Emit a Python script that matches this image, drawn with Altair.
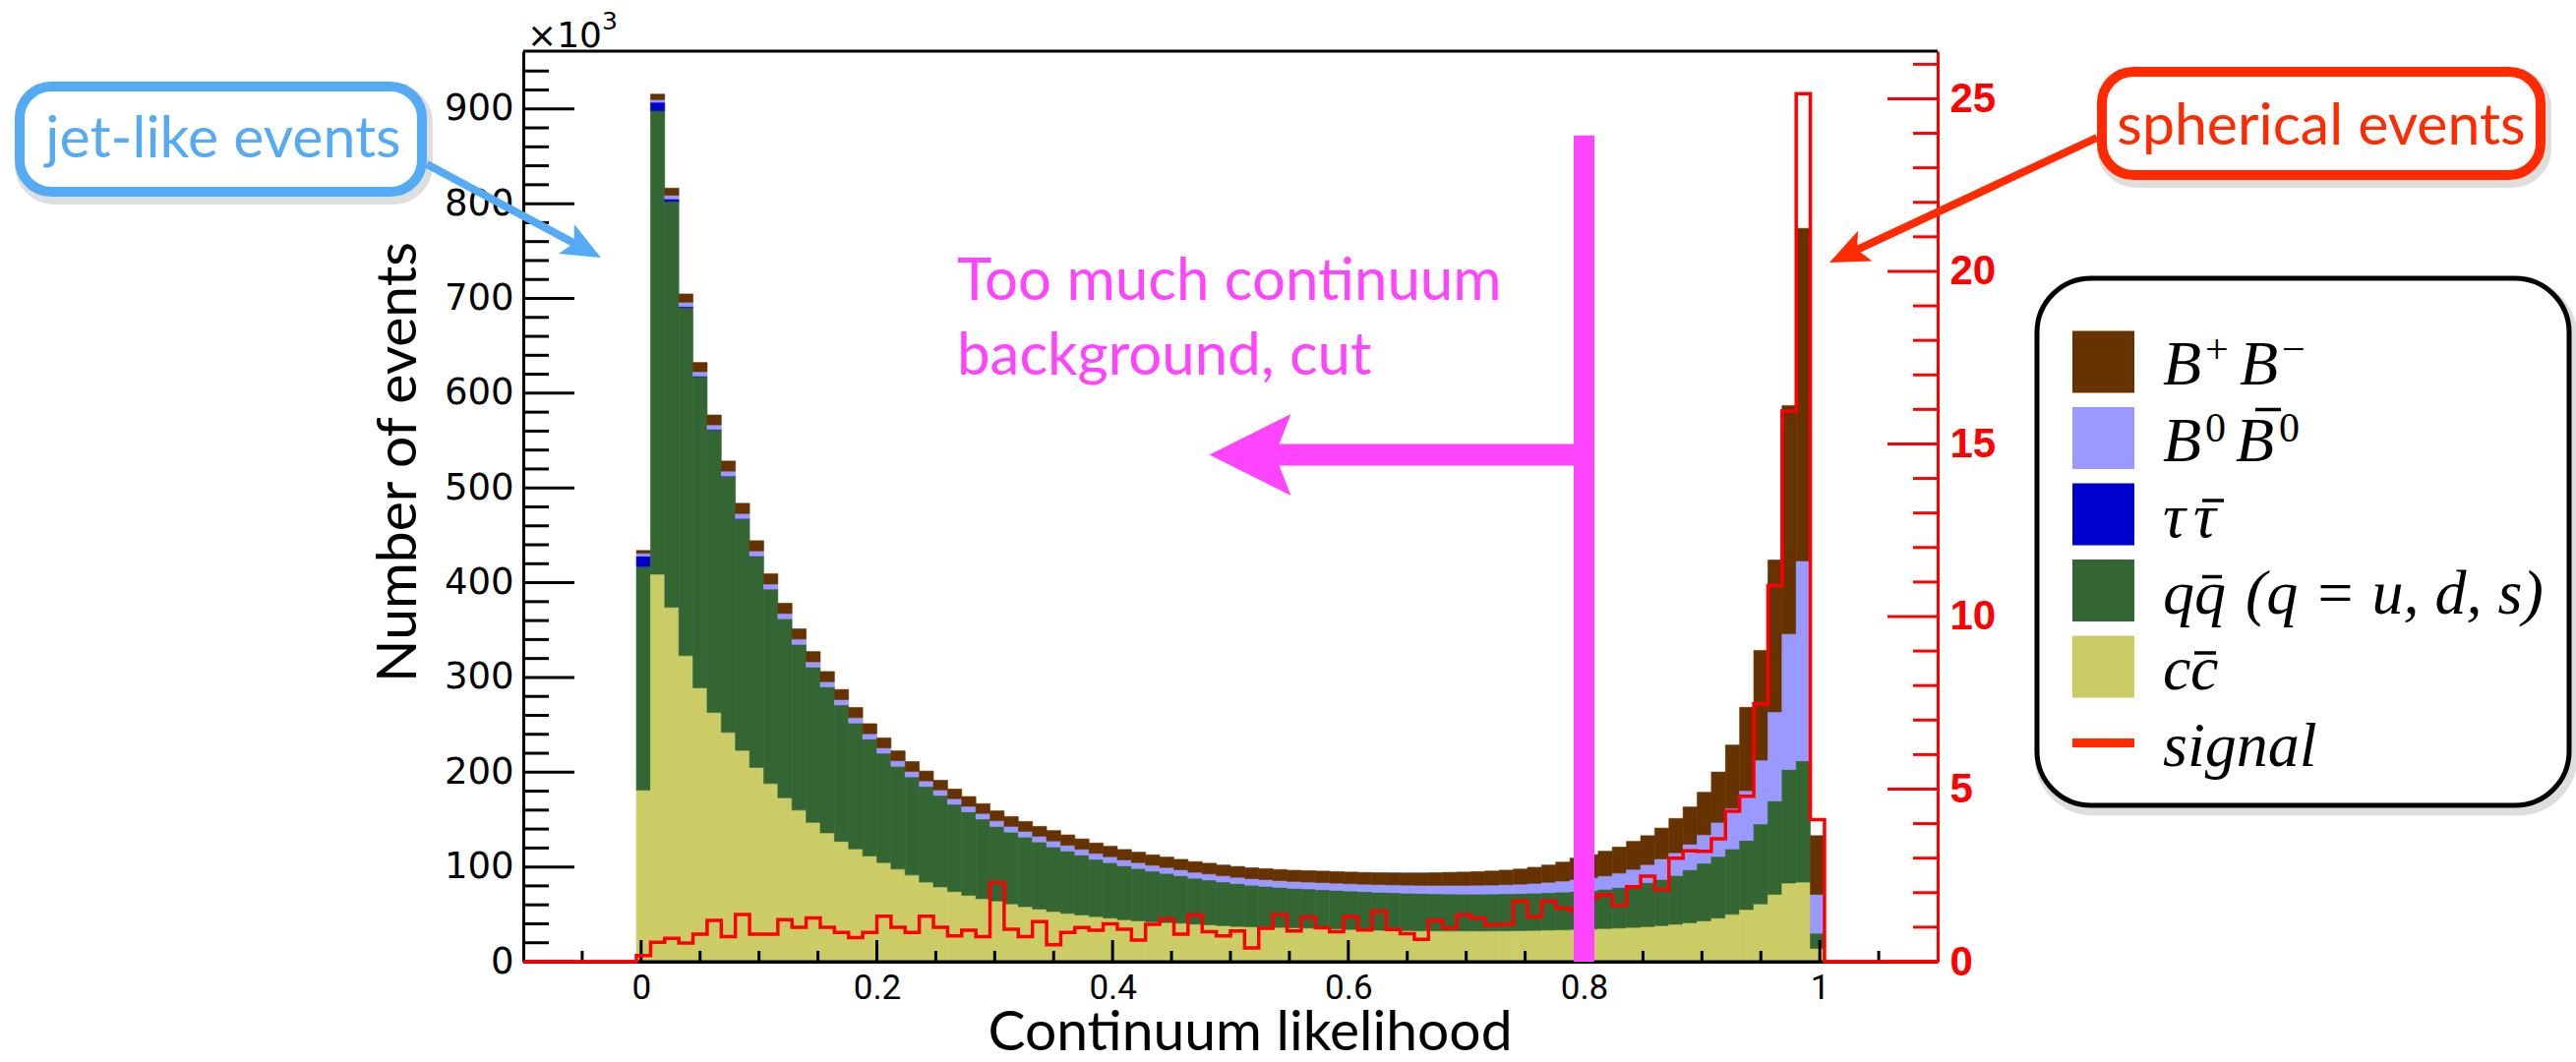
import math
import altair as alt
import pandas as pd

# ---------------- data ----------------
BIN_LO_FIRST = -0.004   # lower edge of the first filled bin
BIN_WIDTH = 0.012

# c c-bar (bottom of the stack), x10^3 events per bin
cc = [181, 409, 374, 323, 289, 263, 242, 223, 205, 188,
      173, 160, 147, 136, 127, 119, 111.5, 104.6, 97.7, 91.5,
      84, 79, 74, 70, 66.5, 64, 61, 58, 55.5, 53,
      51, 49.3, 47.6, 46, 44.3, 43.1, 42, 41.3, 40.6, 39.6,
      38.9, 38, 37.2, 36.8, 36.5, 36.2, 35.8, 35.5, 35, 34.5,
      34, 33.6, 33.2, 33, 32.8, 32.6, 32.5, 32.4, 32.4, 32.4,
      32.5, 32.6, 32.8, 33, 33.3, 33.6, 34, 34.5, 35, 35.5,
      36.2, 37, 38, 39.5, 41, 43, 46, 50, 55, 61,
      71, 83, 84, 14]
# q q-bar (q = u, d, s)
qq = [236, 489, 428.4, 367.5, 328.5, 298.4, 270.3, 244.5, 223, 205,
      189, 175, 164, 154, 144, 133, 123.5, 115.4, 108.6, 103.5,
      101, 96.5, 92.2, 88.2, 84.1, 78.7, 75.8, 73.6, 70.9, 68.2,
      65.8, 63.3, 60.5, 58.6, 56.9, 55.3, 53.6, 51.9, 50.2, 48.5,
      47.4, 46.2, 45.2, 44, 43.1, 42.3, 41.7, 41.3, 41, 40.8,
      40.6, 40.4, 40.2, 39.9, 39.6, 39.4, 39.2, 39.1, 39, 39,
      39, 39.1, 39.2, 39.4, 39.6, 39.9, 40.2, 40.5, 41.5, 42.8,
      44.3, 46.5, 48.8, 51.5, 56, 61, 65, 69, 73, 84.3,
      98.6, 120, 128, 16]
# tau tau-bar
tautau = [11, 9, 2.6, 1, 0.5, 0.3, 0.2, 0.2, 0.1, 0.1,
          0, 0, 0, 0, 0, 0, 0, 0, 0, 0,
          0, 0, 0, 0, 0, 0, 0, 0, 0, 0,
          0, 0, 0, 0, 0, 0, 0, 0, 0, 0,
          0, 0, 0, 0, 0, 0, 0, 0, 0, 0,
          0, 0, 0, 0, 0, 0, 0, 0, 0, 0,
          0, 0, 0, 0, 0, 0, 0, 0, 0, 0,
          0, 0, 0, 0, 0, 0, 0, 0, 0, 0,
          0, 0, 0, 0]
# B0 B0-bar
b0b0 = [3, 2.8, 3.9, 4.5, 4.7, 4.9, 5.2, 5.3, 5.4, 5.5,
        5.5, 5.5, 5.5, 5.5, 5.6, 5.6, 5.6, 5.7, 5.8, 5.8,
        5.8, 5.8, 5.8, 5.8, 5.9, 6.1, 6, 6, 6, 6.2,
        6, 6, 6.2, 6.2, 6.2, 6.2, 6.2, 6.2, 6.2, 6.3,
        6.3, 6.5, 6.7, 6.8, 7, 7.1, 7.2, 7.3, 7.5, 7.6,
        7.7, 7.8, 8, 8.2, 8.4, 8.6, 8.8, 9, 9.1, 9.3,
        9.4, 9.6, 9.8, 10.2, 10.8, 11.6, 12.6, 13.5, 14, 15.2,
        17, 19, 21.7, 24, 27, 30, 36, 43, 52.6, 67.5,
        94.1, 143, 211, 41]
# B+ B-
bpbm = [3, 5.8, 7.5, 8.7, 9.7, 10.4, 10.7, 10.8, 10.8, 10.8,
        10.8, 10.8, 10.8, 10.7, 10.7, 10.7, 10.6, 10.5, 10.4, 10.4,
        10.4, 10.2, 10.2, 10.3, 10.3, 10.4, 10.4, 10.4, 10.4, 11,
        11, 11, 11, 11, 11, 11, 11, 11, 11, 11.2,
        11.3, 11.3, 11.4, 11.5, 11.6, 11.7, 11.8, 12, 12.1, 12.2,
        12.3, 12.4, 12.5, 12.7, 12.9, 13.1, 13.4, 13.8, 14.1, 14.4,
        14.8, 15.3, 16, 17, 18.3, 20, 22.5, 24.5, 26.1, 27.5,
        29.5, 30.5, 32.5, 36.2, 39.3, 44.8, 53.2, 66.7, 87.9, 115.6,
        160.2, 241, 351, 62]
# signal (right axis)
signal = [0.18, 0.56, 0.68, 0.54, 0.8, 1.2, 0.73, 1.37, 0.8, 0.8,
          1.22, 1.0, 1.27, 1.0, 0.85, 0.7, 0.85, 1.32, 1.0, 0.85,
          1.32, 1.0, 0.75, 0.91, 0.73, 2.3, 0.94, 0.73, 1.16, 0.49,
          0.85, 0.99, 0.91, 1.1, 0.94, 0.63, 1.08, 1.23, 0.8, 1.35,
          0.87, 0.75, 0.89, 0.4, 0.97, 1.37, 0.89, 1.29, 0.98, 0.87,
          1.3, 0.92, 1.46, 0.93, 0.81, 0.65, 1.2, 0.98, 1.35, 1.27,
          1.06, 1.08, 1.75, 1.3, 1.75, 1.55, 1.48, 1.85, 1.94, 1.63,
          2.17, 2.48, 2.09, 3.0, 3.21, 3.2, 3.56, 4.36, 4.79, 7.47,
          10.9, 15.95, 25.15, 4.12]

COMPONENTS = ["cc", "qq", "tautau", "b0b0", "bpbm"]
COMP_COLORS = ["#cccc66", "#336633", "#0000cc", "#9999ff", "#663300"]

# legend entries: B+B-, B0 B0bar, tau taubar, q qbar (q = u, d, s), c cbar, signal
LEGEND_COLORS = ["#663300", "#9999ff", "#0000cc", "#336633", "#cccc66", "#ff2a00"]
# text pieces of each legend label: (row, text, dx, dy, size, italic)
LEGEND_PIECES = [
    (0, "B", 0, 0, 64, True), (0, "+", 43, -22, 42, False),
    (0, "B", 78, 0, 64, True), (0, "\u2212", 121, -22, 42, False),
    (1, "B", 0, 0, 64, True), (1, "0", 43, -20, 42, False),
    (1, "B", 74, 0, 64, True), (1, "0", 118, -20, 42, False),
    (2, "\u03c4", 0, 0, 64, True), (2, "\u03c4", 31, 0, 64, True),
    (3, "q", 0, 0, 64, True), (3, "q", 32, 0, 64, True),
    (3, "(q = u, d, s)", 84, 0, 64, True),
    (4, "c", 0, 0, 64, True), (4, "c", 28, 0, 64, True),
    (5, "signal", 0, 0, 64, True),
]
# over-bars of the anti-particles: (row, dx0, dx1, dy)
LEGEND_BARS = [(1, 94, 120, -52), (2, 40, 62, -37), (3, 40, 60, -37), (4, 32, 54, -37)]

LEFT_MAJOR = [0, 100, 200, 300, 400, 500, 600, 700, 800, 900]
RIGHT_MAJOR = [0, 5, 10, 15, 20, 25]
X_MAJOR = [0, 0.2, 0.4, 0.6, 0.8, 1.0]

X_DOMAIN = [-0.1, 1.1]
Y_LEFT_MAX = 961
Y_RIGHT_MAX = 26.38
CUT = 0.8

# ---------------- tables ----------------
n = len(cc)
rows = []
for i in range(n):
    lo = round(BIN_LO_FIRST + i * BIN_WIDTH, 4)
    hi = round(lo + BIN_WIDTH, 4)
    base = 0.0
    for name, series in zip(COMPONENTS, [cc, qq, tautau, b0b0, bpbm]):
        v = series[i]
        if v > 0:
            rows.append({"x0": lo, "x1": hi, "y0": base, "y1": base + v, "comp": name})
        base += v
stack_df = pd.DataFrame(rows)

sig_rows = [{"x": X_DOMAIN[0], "s": 0.0}]
for i in range(n):
    sig_rows.append({"x": round(BIN_LO_FIRST + i * BIN_WIDTH, 4), "s": signal[i]})
sig_rows.append({"x": round(BIN_LO_FIRST + n * BIN_WIDTH, 4), "s": 0.0})
sig_rows.append({"x": X_DOMAIN[1], "s": 0.0})
sig_df = pd.DataFrame(sig_rows)

left_minor = [v for v in range(20, 960, 20) if v % 100]
right_minor = [v for v in range(1, 27) if v % 5]
x_minor = [round(k * 0.05, 2) for k in range(-1, 22) if k % 4]

W, H = 1438, 926
ONE = pd.DataFrame({"k": [0]})

xs = alt.Scale(domain=X_DOMAIN, nice=False, zero=False)
yl = alt.Scale(domain=[0, Y_LEFT_MAX], nice=False, zero=False)
yr = alt.Scale(domain=[0, Y_RIGHT_MAX], nice=False, zero=False)
ya = alt.Scale(domain=[0, Y_LEFT_MAX], nice=False, zero=False)

x_axis = alt.Axis(values=X_MAJOR, format=".1~f", ticks=False, domainColor="black",
                  domainWidth=3, labelFont="Roboto", labelFontSize=35, labelColor="black",
                  labelPadding=9, grid=False, title=None, labelFlush=False,
                  labelOverlap=False, orient="bottom")
yl_axis = alt.Axis(values=LEFT_MAJOR, ticks=False, domainColor="black", domainWidth=3,
                   labelFont="DejaVu Sans", labelFontSize=37, labelColor="black",
                   labelPadding=10, grid=False, title=None, labelFlush=False,
                   labelOverlap=False, orient="left")
yr_axis = alt.Axis(values=RIGHT_MAJOR, ticks=False, domainColor="#ff0000", domainWidth=3,
                   labelFont="Liberation Sans", labelFontWeight="bold", labelFontSize=42,
                   labelColor="#ff0000", labelPadding=12, grid=False, title=None,
                   labelFlush=False, labelOverlap=False, orient="right")

# ---------------- left group: stacked histogram + ticks ----------------
cscale = alt.Scale(domain=COMPONENTS, range=COMP_COLORS)
bars = alt.Chart(stack_df).mark_rect(strokeWidth=0.6).encode(
    x=alt.X("x0:Q", scale=xs, axis=x_axis),
    x2="x1:Q",
    y=alt.Y("y0:Q", scale=yl, axis=yl_axis),
    y2="y1:Q",
    color=alt.Color("comp:N", scale=cscale, legend=None),
    stroke=alt.Stroke("comp:N", scale=cscale, legend=None),
)


def ytick(vals, scale, axis, x0, x1, color):
    return alt.Chart(pd.DataFrame({"v": vals})).mark_rule(color=color, strokeWidth=3).encode(
        y=alt.Y("v:Q", scale=scale, axis=axis), x=alt.value(x0), x2=alt.value(x1))


def xtick(vals, length):
    return alt.Chart(pd.DataFrame({"v": vals})).mark_rule(color="black", strokeWidth=3).encode(
        x=alt.X("v:Q", scale=xs, axis=x_axis), y=alt.value(H), y2=alt.value(H - length))


frame_top = alt.Chart(ONE).mark_rule(color="black", strokeWidth=3).encode(
    x=alt.value(0), x2=alt.value(W), y=alt.value(0))
frame_bottom = alt.Chart(ONE).mark_rule(color="black", strokeWidth=3).encode(
    x=alt.value(0), x2=alt.value(W), y=alt.value(H))

left = alt.layer(
    bars,
    ytick(LEFT_MAJOR, yl, yl_axis, 0, 52, "black"),
    ytick(left_minor, yl, yl_axis, 0, 26, "black"),
    xtick(X_MAJOR, 22),
    xtick(x_minor, 11),
    frame_top,
    frame_bottom,
)

# ---------------- right group: signal ----------------
sig_line = alt.Chart(sig_df).mark_line(interpolate="step-after", color="#ff0000",
                                      strokeWidth=3.5).encode(
    x=alt.X("x:Q", scale=xs, axis=x_axis),
    y=alt.Y("s:Q", scale=yr, axis=yr_axis),
)
right = alt.layer(
    sig_line,
    ytick(RIGHT_MAJOR, yr, yr_axis, W, W - 51, "#ff0000"),
    ytick(right_minor, yr, yr_axis, W, W - 25, "#ff0000"),
)

# ---------------- annotation group ----------------
MAG = "#ff44ff"
BLUE = "#55aaf5"
RED = "#ff2a00"

cut_v = alt.Chart(pd.DataFrame({"x": [CUT], "y0": [0], "y1": [872]})).mark_rule(
    color=MAG, strokeWidth=21).encode(
    x=alt.X("x:Q", scale=xs, axis=x_axis),
    y=alt.Y("y0:Q", scale=ya, axis=None), y2="y1:Q")
cut_h = alt.Chart(pd.DataFrame({"x": [0.538], "x2": [CUT], "y": [535]})).mark_rule(
    color=MAG, strokeWidth=22).encode(
    x=alt.X("x:Q", scale=xs, axis=x_axis), x2="x2:Q",
    y=alt.Y("y:Q", scale=ya, axis=None))
cut_head = alt.Chart(pd.DataFrame({"x": [0.5167], "y": [535]})).mark_point(
    shape="M -1 0 L 1 -1 L 0.61 0 L 1 1 Z", filled=True, size=83 * 83,
    color=MAG, opacity=1, strokeWidth=0).encode(
    x=alt.X("x:Q", scale=xs, axis=x_axis), y=alt.Y("y:Q", scale=ya, axis=None))
cut_text = alt.Chart(pd.DataFrame({"t": ["Too much continuum", "background, cut"],
                                   "x": [0.268, 0.268], "y": [698, 620]})).mark_text(
    font="Lato", fontSize=60, color=MAG, align="left", baseline="alphabetic").encode(
    x=alt.X("x:Q", scale=xs, axis=x_axis), y=alt.Y("y:Q", scale=ya, axis=None), text="t:N")


def box(x0, x1, y0, y1, color, sw, radius):
    shadow = alt.Chart(ONE).mark_rect(cornerRadius=radius, fill="white", stroke="#000000",
                                      strokeOpacity=0.13, strokeWidth=sw + 6).encode(
        x=alt.value(x0 + 3), x2=alt.value(x1 + 3), y=alt.value(y0 + 5), y2=alt.value(y1 + 5))
    main = alt.Chart(ONE).mark_rect(cornerRadius=radius, fill="white", stroke=color,
                                    strokeWidth=sw).encode(
        x=alt.value(x0), x2=alt.value(x1), y=alt.value(y0), y2=alt.value(y1))
    return [shadow, main]


def label(text, x, y, color, size, font="Lato", align="center", baseline="alphabetic",
          angle=0, style="normal"):
    return alt.Chart(ONE).mark_text(text=text, font=font, fontSize=size, color=color,
                                    align=align, baseline=baseline, angle=angle,
                                    fontStyle=style).encode(
        x=alt.value(x), y=alt.value(y))


def arrow(x0, y0, x1, y1, color, width, head):
    ang = math.degrees(math.atan2(y1 - y0, x1 - x0))
    ux, uy = math.cos(math.radians(ang)), math.sin(math.radians(ang))
    hx, hy = x1 - ux * head / 2, y1 - uy * head / 2
    line = alt.Chart(ONE).mark_rule(color=color, strokeWidth=width).encode(
        x=alt.value(x0), y=alt.value(y0), x2=alt.value(hx), y2=alt.value(hy))
    tip = alt.Chart(ONE).mark_point(shape="M 1 0 L -1 -0.85 L -0.55 0 L -1 0.85 Z",
                                    filled=True, size=head * head, color=color, opacity=1,
                                    strokeWidth=0, angle=ang % 360).encode(
        x=alt.value(hx), y=alt.value(hy))
    return [line, tip]


jet_box = box(-512, -103, 36, 143, BLUE, 10, 32)
jet_text = label("jet-like events", -305, 108, BLUE, 59)
jet_arrow = arrow(-98, 115, 79, 210, BLUE, 8, 40)

sph_box = box(1605, 2051, 21, 126, RED, 10, 32)
sph_text = label("spherical events", 1828, 95, RED, 59)
sph_arrow = arrow(1600, 88, 1328, 215, RED, 8, 40)

# legend (drawn by hand inside a rounded box)
leg_box = box(1539, 2080, 231, 767, "black", 5, 55)
ROW0, ROWSTEP, TX0, BASE_OFF = 316, 77.5, 1667, 23
leg = pd.DataFrame({"color": LEGEND_COLORS, "row": list(range(len(LEGEND_COLORS)))})
leg_sw = alt.Chart(leg[leg.row < 5]).transform_calculate(
    yt=f"{ROW0} + {ROWSTEP} * datum.row - 31.5",
    yb=f"{ROW0} + {ROWSTEP} * datum.row + 31.5").mark_rect().encode(
    x=alt.value(1575), x2=alt.value(1638),
    y=alt.Y("yt:Q", scale=None, axis=None), y2="yb:Q",
    color=alt.Color("color:N", scale=None, legend=None))
leg_line = alt.Chart(leg[leg.row == 5]).transform_calculate(
    yc=f"{ROW0} + {ROWSTEP} * datum.row").mark_rule(color=RED, strokeWidth=9).encode(
    x=alt.value(1575), x2=alt.value(1638), y=alt.Y("yc:Q", scale=None, axis=None))

pieces = pd.DataFrame(LEGEND_PIECES, columns=["row", "t", "dx", "dy", "size", "italic"])


def piece_layer(df, style):
    return alt.Chart(df).transform_calculate(
        px=f"{TX0} + datum.dx",
        py=f"{ROW0} + {ROWSTEP} * datum.row + {BASE_OFF} + datum.dy").mark_text(
        font="Liberation Serif", fontStyle=style, color="black",
        align="left", baseline="alphabetic").encode(
        x=alt.X("px:Q", scale=None, axis=None), y=alt.Y("py:Q", scale=None, axis=None),
        text="t:N", size=alt.Size("size:Q", scale=None, legend=None))


leg_it = piece_layer(pieces[pieces.italic], "italic")
leg_up = piece_layer(pieces[~pieces.italic], "normal")
bars_df = pd.DataFrame(LEGEND_BARS, columns=["row", "dx0", "dx1", "dy"])
leg_bars = alt.Chart(bars_df).transform_calculate(
    bx0=f"{TX0} + datum.dx0", bx1=f"{TX0} + datum.dx1",
    by=f"{ROW0} + {ROWSTEP} * datum.row + {BASE_OFF} + datum.dy").mark_rule(
    color="black", strokeWidth=3.5).encode(
    x=alt.X("bx0:Q", scale=None, axis=None), x2="bx1:Q",
    y=alt.Y("by:Q", scale=None, axis=None))

ytitle = label("Number of events", -126, 418, "black", 57, baseline="middle", angle=270)
xtitle = label("Continuum likelihood", 739, 1016, "black", 57)
exp_main = label("\u00d710", 4, -4, "black", 36, font="DejaVu Sans", align="left")
exp_sup = label("3", 80, -22, "black", 25, font="DejaVu Sans", align="left")

ann = alt.layer(
    cut_v, cut_h, cut_head, cut_text,
    *jet_box, jet_text, *jet_arrow,
    *sph_box, sph_text, *sph_arrow,
    *leg_box, leg_sw, leg_line, leg_it, leg_up, leg_bars,
    ytitle, xtitle, exp_main, exp_sup,
)

chart = alt.layer(left, right, ann).resolve_scale(y="independent").properties(
    width=W, height=H,
    padding={"left": 532, "top": 52, "right": 2619 - 532 - W, "bottom": 1080 - 52 - H},
    autosize=alt.AutoSizeParams(type="none"),
    background="white",
).configure_view(stroke=None)

chart.save("out.html", embed_options={"renderer": "svg", "actions": False})
